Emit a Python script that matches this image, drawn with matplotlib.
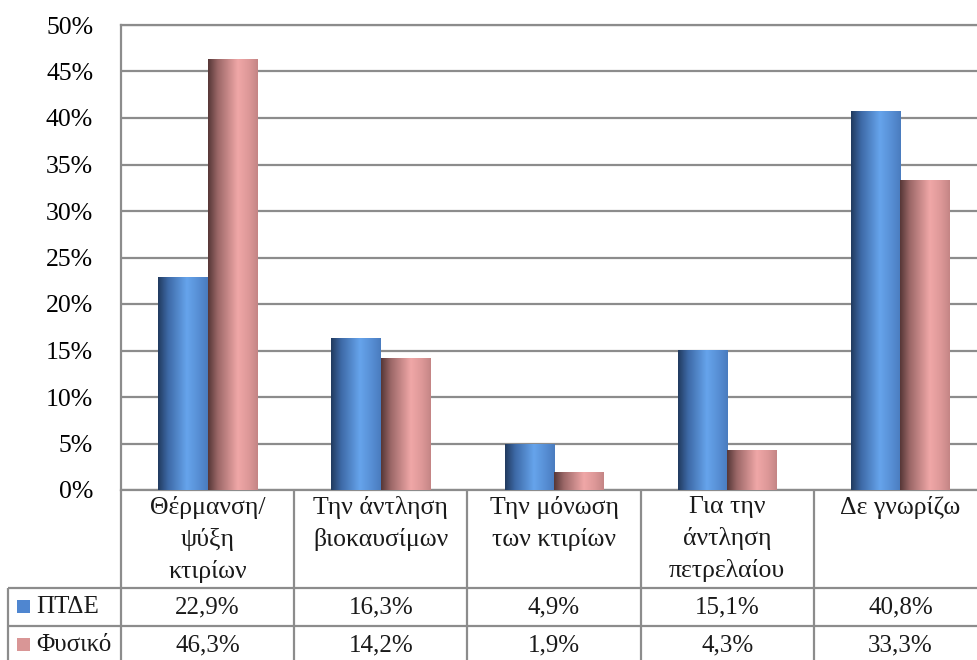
import numpy as np
import matplotlib
matplotlib.use("Agg")
import matplotlib.pyplot as plt
from matplotlib.colors import LinearSegmentedColormap
from matplotlib.patches import Rectangle
from matplotlib.lines import Line2D

plt.rcParams['font.family'] = ['Liberation Serif', 'DejaVu Serif']

categories = ["Θέρμανση/\nψύξη\nκτιρίων", "Την άντληση\nβιοκαυσίμων",
              "Την μόνωση\nτων κτιρίων", "Για την\nάντληση\nπετρελαίου", "Δε γνωρίζω"]
series_names = ["ΠΤΔΕ", "Φυσικό"]
ptde = [22.9, 16.3, 4.9, 15.1, 40.8]
fysiko = [46.3, 14.2, 1.9, 4.3, 33.3]
yticks = [0, 5, 10, 15, 20, 25, 30, 35, 40, 45, 50]

W, H = 977, 660
fig = plt.figure(figsize=(W / 100, H / 100), dpi=100)
fig.patch.set_facecolor("white")

# plot area in pixel geometry
PL, PR, PT, PB = 121, 987, 25, 490
ax = fig.add_axes([PL / W, 1 - PB / H, (PR - PL) / W, (PB - PT) / H])

grid_col = "#8c8c8c"
n = len(categories)
xc = np.arange(n) + 0.5
bw = 1 / 3.5

blue_cmap = LinearSegmentedColormap.from_list(
    "cyl_blue", [(0.0, "#213a5e"), (0.2, "#3d69a6"), (0.58, "#66a4ec"),
                 (0.8, "#5890d6"), (1.0, "#4a7cbe")])
pink_cmap = LinearSegmentedColormap.from_list(
    "cyl_pink", [(0.0, "#563636"), (0.2, "#9c6868"), (0.6, "#f0a7a7"),
                 (0.82, "#dd9898"), (1.0, "#c48585")])
grad = np.linspace(0, 1, 256).reshape(1, -1)

for vals, off, cmap in ((ptde, -bw / 2, blue_cmap), (fysiko, bw / 2, pink_cmap)):
    bars = ax.bar(xc + off, vals, width=bw, facecolor="none", edgecolor="none", zorder=3)
    for p in bars:
        x0, h, w = p.get_x(), p.get_height(), p.get_width()
        im = ax.imshow(grad, cmap=cmap, extent=[x0, x0 + w, 0, h],
                       aspect="auto", zorder=3, interpolation="bilinear")
        im.set_clip_path(p)

ax.set_xlim(0, n)
ax.set_ylim(0, 50)
ax.set_yticks(yticks)
ax.set_yticklabels([f"{v}%" for v in yticks], fontsize=18.5)
ax.tick_params(axis="y", length=0, pad=20)
ax.set_xticks([])
ax.yaxis.grid(True, color=grid_col, lw=1.6)
ax.set_axisbelow(True)
for side in ("left", "bottom", "top"):
    ax.spines[side].set_color(grid_col)
    ax.spines[side].set_linewidth(1.6)
ax.spines["right"].set_visible(False)

# data table beneath the plot, drawn in pixel coordinates
tax = fig.add_axes([0, 0, 1, 1], facecolor="none")
tax.set_xlim(0, W)
tax.set_ylim(H, 0)
tax.axis("off")

cw = (PR - PL) / n
edges = [PL + i * cw for i in range(n + 1)]
r1, r2, r3 = 588, 626, 664
LX = 8

def line(xs, ys):
    tax.add_line(Line2D(xs, ys, color=grid_col, lw=1.6, solid_capstyle="butt"))

for e in edges[:-1]:
    line([e, e], [PB, H + 5])
for y in (r1, r2, r3):
    line([LX, PR], [y, y])
line([LX, LX], [r1, H + 5])

for i, lab in enumerate(categories):
    tax.text(edges[i] + cw / 2, 496, lab, ha="center", va="top",
             fontsize=18.5, linespacing=1.5, color="#1a1a1a")

def pct(v):
    return f"{v:.1f}%".replace(".", ",")

legend_cols = ["#4f86d0", "#d99696"]
for row, (name, vals, col) in enumerate(zip(series_names, (ptde, fysiko), legend_cols)):
    yc = (r1 + r2) / 2 if row == 0 else (r2 + r3) / 2
    tax.add_patch(Rectangle((17, yc - 7), 13, 13, facecolor=col, edgecolor="none"))
    tax.text(36, yc, name, ha="left", va="center", fontsize=18, color="#1a1a1a")
    for i, v in enumerate(vals):
        tax.text(edges[i] + cw / 2, yc, pct(v), ha="center", va="center",
                 fontsize=18, color="#1a1a1a")

fig.savefig("out.png", dpi=100, facecolor="white")
